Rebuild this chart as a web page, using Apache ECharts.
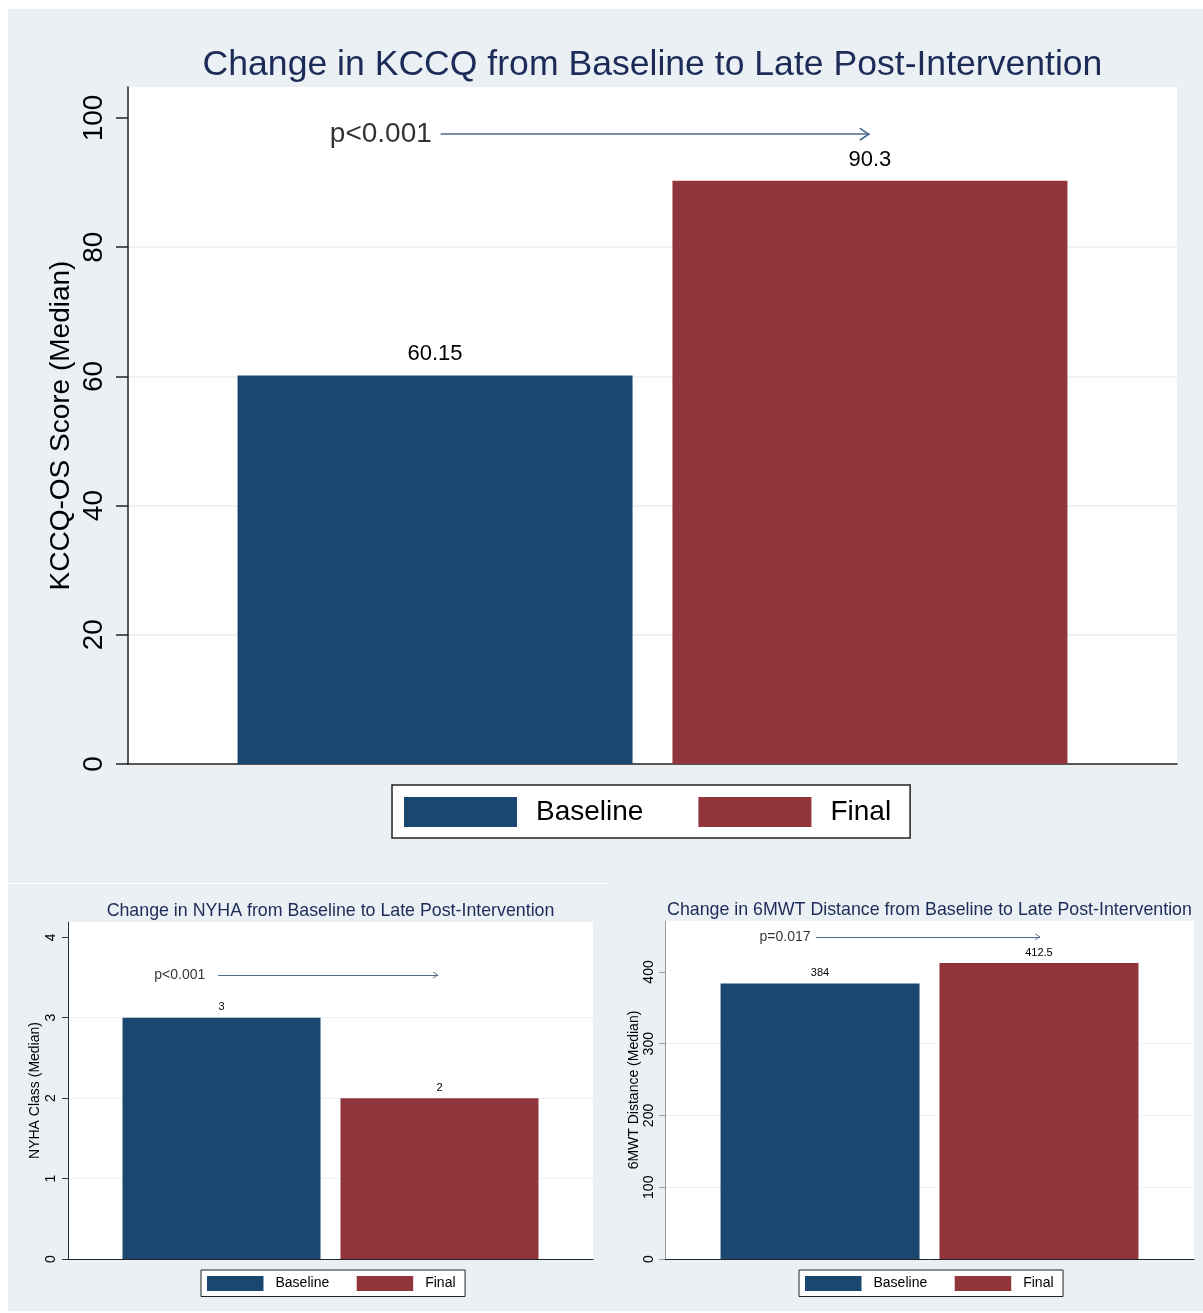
<!DOCTYPE html>
<html>
<head>
<meta charset="utf-8">
<title>KCCQ / NYHA / 6MWT</title>
<script src="https://cdn.jsdelivr.net/npm/echarts@6/dist/echarts.min.js"></script>
<style>
html, body { margin: 0; padding: 0; background: #fff; }
body { width: 1203px; height: 1313px; position: relative; overflow: hidden; }
.panel { position: absolute; background: #eaf0f4; }
#kccq { left: 8px; top: 9px; width: 1195px; height: 874px; }
#nyha { left: 8px; top: 884px; width: 600px; height: 427px; }
#mwt { left: 608px; top: 883px; width: 595px; height: 428px; }
</style>
</head>
<body>
<div id="kccq" class="panel"></div>
<div id="nyha" class="panel"></div>
<div id="mwt" class="panel"></div>
<script>
// data
const categories = ['Baseline', 'Final'];
const kccqValues = [60.15, 90.3];
const nyhaValues = [3, 2];
const mwtValues = [384, 412.5];
const kccqTicks = [0, 20, 40, 60, 80, 100];
const nyhaTicks = [0, 1, 2, 3, 4];
const mwtTicks = [0, 100, 200, 300, 400];
const pTexts = ['p<0.001', 'p<0.001', 'p=0.017'];

const FONT = "'Liberation Sans', Arial, Helvetica, sans-serif";
const NAVY = '#1a476f';
const MAROON = '#90353b';
// open arrow head, tip pointing up (markLine rotates it)
const CHEVRON = 'path://M0,10 L10,0 L20,10 L18.4,11.4 L10,3 L1.6,11.4 Z';

function buildOption(c) {
	let s = c.scale;
	let g = c.grid;
	return {
		animation: false,
		textStyle: { fontFamily: FONT },
		title: {
			text: c.title,
			left: g.left + g.width / 2,
			top: c.titleTop,
			textAlign: 'center',
			padding: 0,
			textStyle: { fontSize: c.titleSize, fontWeight: 'normal', color: '#1c2b58', fontFamily: FONT }
		},
		legend: {
			data: categories,
			left: c.legendLeft,
			top: c.legendTop,
			orient: 'horizontal',
			icon: 'rect',
			itemWidth: 113 * s,
			itemHeight: 30 * s,
			itemGap: 55 * s,
			padding: [12 * s, 19 * s, 11 * s, 12 * s],
			backgroundColor: '#fff',
			borderColor: '#222',
			borderWidth: s > 0.6 ? 1.5 : 1,
			borderRadius: 0,
			selectedMode: false,
			textStyle: { fontSize: 28 * s, color: '#000', padding: [0, 0, 0, 14 * s], lineHeight: 30 * s, fontFamily: FONT }
		},
		grid: {
			left: g.left, top: g.top, width: g.width, height: g.height,
			show: true, backgroundColor: '#fff', borderWidth: 0, containLabel: false
		},
		xAxis: [{
			type: 'category',
			data: ['all'],
			axisLine: { show: true, lineStyle: { color: '#222', width: s > 0.6 ? 1.5 : 1 } },
			axisTick: { show: false },
			axisLabel: { show: false },
			splitLine: { show: false }
		}, {
			type: 'value', min: 0, max: 1, show: false
		}],
		yAxis: {
			type: 'value',
			min: 0,
			max: c.yMax,
			interval: c.ticks[1] - c.ticks[0],
			name: c.yName,
			nameLocation: 'middle',
			nameRotate: 90,
			nameGap: c.nameGap,
			nameMoveOverlap: false,
			nameTextStyle: { fontSize: 28 * s, color: '#000', fontFamily: FONT },
			axisLine: { show: true, lineStyle: { color: c.yLineColor, width: s > 0.6 ? 1.5 : 1 } },
			axisTick: { show: true, length: 12 * s, customValues: c.ticks, lineStyle: { color: c.yLineColor, width: s > 0.6 ? 1.5 : 1 } },
			axisLabel: { rotate: 90, margin: c.labelMargin, fontSize: 28 * s, color: '#000', customValues: c.ticks, fontFamily: FONT },
			splitLine: { show: true, showMinLine: false, showMaxLine: false, lineStyle: { color: '#edf2f5', width: s > 0.6 ? 2 : 1.2 } }
		},
		series: [{
			name: categories[0],
			type: 'bar',
			data: [c.values[0]],
			barWidth: c.barWidth,
			barGap: c.barGap,
			itemStyle: { color: NAVY },
			label: { show: true, position: 'top', distance: c.labelDist, fontSize: 22 * s, color: '#000', fontFamily: FONT }
		}, {
			name: categories[1],
			type: 'bar',
			data: [c.values[1]],
			barWidth: c.barWidth,
			barGap: c.barGap,
			itemStyle: { color: MAROON },
			label: { show: true, position: 'top', distance: c.labelDist, fontSize: 22 * s, color: '#000', fontFamily: FONT }
		}, {
			// p-value note and arrow
			type: 'scatter',
			xAxisIndex: 1,
			silent: true,
			symbolSize: 0,
			data: [[c.pX, c.pY]],
			label: { show: true, position: 'inside', formatter: c.pText, fontSize: 28 * s, color: '#000', fontFamily: FONT },
			markLine: {
				silent: true,
				symbol: ['none', CHEVRON],
				symbolSize: [13 * s, 11 * s],
				symbolOffset: [[0, 0], [0, 5 * s]],
				label: { show: false },
				lineStyle: { color: '#4a6b8e', width: s > 0.6 ? 1.5 : 1, type: 'solid' },
				data: [[{ coord: [c.arrowFrom, c.pY] }, { coord: [c.arrowTo, c.pY] }]]
			}
		}]
	};
}

let kccqChart = echarts.init(document.getElementById('kccq'));
kccqChart.setOption(buildOption({
	scale: 1,
	title: 'Change in KCCQ from Baseline to Late Post-Intervention',
	titleSize: 35.6, titleTop: 38,
	grid: { left: 120, top: 78, width: 1049, height: 677 },
	yMax: 104.8, ticks: kccqTicks, values: kccqValues,
	yName: 'KCCQ-OS Score (Median)', nameGap: 53, labelMargin: 20, yLineColor: '#222',
	barWidth: 395, barGap: '10.1%', labelDist: 10,
	legendLeft: 384, legendTop: 776,
	pText: pTexts[0], pX: 0.241, pY: 97.5, arrowFrom: 0.298, arrowTo: 0.707
}));

let nyhaChart = echarts.init(document.getElementById('nyha'));
nyhaChart.setOption(buildOption({
	scale: 0.5,
	title: 'Change in NYHA from Baseline to Late Post-Intervention',
	titleSize: 17.8, titleTop: 18,
	grid: { left: 60, top: 38, width: 525, height: 337 },
	yMax: 4.19, ticks: nyhaTicks, values: nyhaValues,
	yName: 'NYHA Class (Median)', nameGap: 26, labelMargin: 10, yLineColor: '#333',
	barWidth: 198, barGap: '10.1%', labelDist: 5,
	legendLeft: 193, legendTop: 386,
	pText: pTexts[1], pX: 0.213, pY: 3.53, arrowFrom: 0.286, arrowTo: 0.705
}));

let mwtChart = echarts.init(document.getElementById('mwt'));
mwtChart.setOption(buildOption({
	scale: 0.5,
	title: 'Change in 6MWT Distance from Baseline to Late Post-Intervention',
	titleSize: 17.8, titleTop: 18,
	grid: { left: 57, top: 38, width: 529, height: 338 },
	yMax: 471, ticks: mwtTicks, values: mwtValues,
	yName: '6MWT Distance (Median)', nameGap: 24, labelMargin: 9, yLineColor: '#999',
	barWidth: 199, barGap: '10%', labelDist: 5,
	legendLeft: 191, legendTop: 387,
	pText: pTexts[2], pX: 0.227, pY: 449, arrowFrom: 0.285, arrowTo: 0.709
}));
</script>
</body>
</html>
